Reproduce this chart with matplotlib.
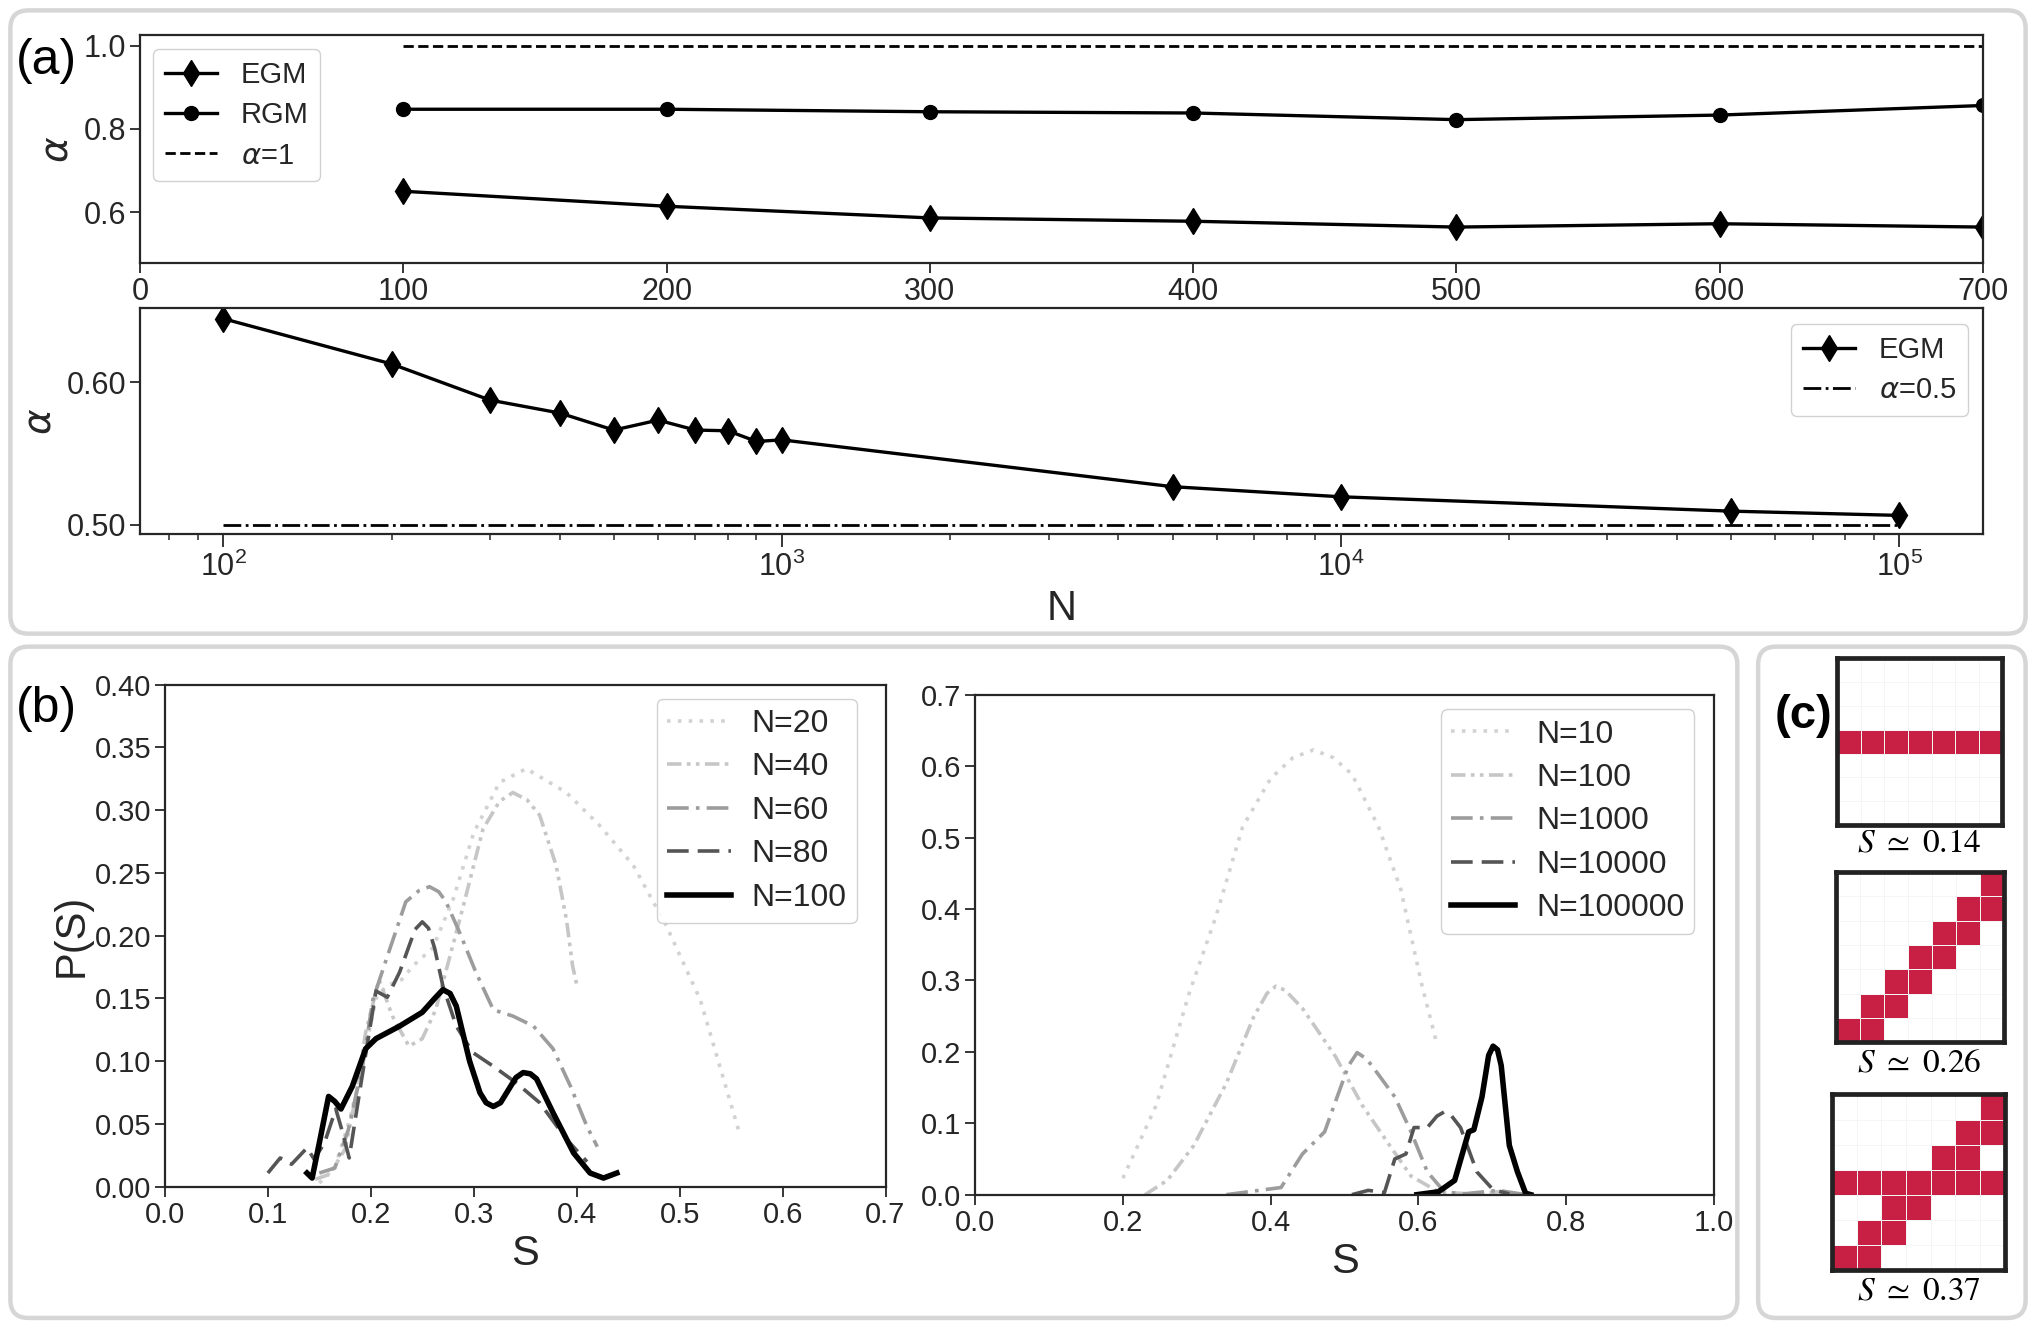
import matplotlib
matplotlib.use("Agg")
import matplotlib.pyplot as plt
import numpy as np
from matplotlib.patches import FancyBboxPatch
from matplotlib.colors import ListedColormap

# ---------------- data ----------------
# (a) top: linear N
N_lin = [100, 200, 300, 400, 500, 600, 700]
egm_lin = [0.650, 0.614, 0.586, 0.578, 0.564, 0.572, 0.564]
rgm_lin = [0.847, 0.847, 0.841, 0.838, 0.822, 0.833, 0.856]
alpha1_x = [100, 700]
alpha1_y = [1.0, 1.0]

# (a) bottom: log N
N_log = [100, 200, 300, 400, 500, 600, 700, 800, 900, 1000, 5000, 10000, 50000, 100000]
egm_log = [0.6447, 0.6129, 0.5875, 0.5784, 0.5664, 0.5734, 0.5664, 0.5659, 0.5584, 0.5595,
           0.5266, 0.5195, 0.5094, 0.5064]
alpha05_x = [100, 100000]
alpha05_y = [0.5, 0.5]

# (b) left: P(S) for small N
S20 = [0.150, 0.165, 0.180, 0.195, 0.205, 0.215, 0.230, 0.241, 0.260, 0.280, 0.300, 0.325,
       0.351, 0.390, 0.422, 0.455, 0.487, 0.520, 0.558]
P20 = [0.003, 0.015, 0.055, 0.110, 0.150, 0.160, 0.165, 0.176, 0.190, 0.229, 0.282, 0.322,
       0.333, 0.314, 0.288, 0.256, 0.208, 0.149, 0.043]
S40 = [0.146, 0.160, 0.175, 0.185, 0.195, 0.208, 0.221, 0.237, 0.250, 0.263, 0.276, 0.289,
       0.309, 0.325, 0.338, 0.352, 0.364, 0.380, 0.390, 0.396, 0.400]
P40 = [0.006, 0.010, 0.030, 0.070, 0.123, 0.165, 0.136, 0.112, 0.118, 0.141, 0.181, 0.221,
       0.285, 0.307, 0.314, 0.308, 0.296, 0.256, 0.213, 0.176, 0.161]
S60 = [0.150, 0.165, 0.178, 0.192, 0.202, 0.215, 0.234, 0.247, 0.257, 0.266, 0.273, 0.286,
       0.302, 0.319, 0.338, 0.358, 0.377, 0.394, 0.410, 0.420]
P60 = [0.011, 0.015, 0.045, 0.096, 0.149, 0.181, 0.227, 0.236, 0.239, 0.235, 0.227, 0.203,
       0.171, 0.141, 0.136, 0.128, 0.110, 0.080, 0.048, 0.032]
S80 = [0.100, 0.112, 0.123, 0.138, 0.145, 0.155, 0.166, 0.172, 0.179, 0.190, 0.205, 0.216,
       0.228, 0.243, 0.250, 0.256, 0.262, 0.270, 0.283, 0.299, 0.319, 0.341, 0.364, 0.390, 0.410]
P80 = [0.011, 0.023, 0.018, 0.031, 0.022, 0.035, 0.062, 0.045, 0.023, 0.080, 0.156, 0.151,
       0.171, 0.205, 0.211, 0.206, 0.190, 0.160, 0.128, 0.107, 0.096, 0.083, 0.067, 0.038, 0.020]
S100 = [0.138, 0.143, 0.150, 0.159, 0.165, 0.171, 0.182, 0.195, 0.205, 0.228, 0.250, 0.262,
        0.270, 0.277, 0.283, 0.296, 0.306, 0.312, 0.319, 0.326, 0.332, 0.341, 0.348, 0.355,
        0.361, 0.377, 0.397, 0.413, 0.426, 0.439]
P100 = [0.011, 0.007, 0.035, 0.072, 0.068, 0.062, 0.080, 0.110, 0.118, 0.128, 0.139, 0.150,
        0.157, 0.154, 0.144, 0.100, 0.075, 0.067, 0.064, 0.067, 0.075, 0.087, 0.091, 0.090,
        0.086, 0.059, 0.027, 0.011, 0.007, 0.011]

# (b) right: P(S) for large N
S10 = [0.200, 0.245, 0.289, 0.326, 0.362, 0.400, 0.430, 0.458, 0.485, 0.510, 0.546, 0.576,
       0.605, 0.624]
P10 = [0.023, 0.125, 0.280, 0.390, 0.515, 0.583, 0.612, 0.623, 0.612, 0.589, 0.515, 0.428,
       0.292, 0.215]
Sb100 = [0.230, 0.260, 0.296, 0.340, 0.377, 0.395, 0.407, 0.420, 0.443, 0.488, 0.524, 0.561,
         0.590, 0.627, 0.670, 0.708, 0.730]
Pb100 = [0.000, 0.020, 0.069, 0.156, 0.249, 0.282, 0.292, 0.286, 0.261, 0.193, 0.125, 0.069,
         0.026, 0.004, 0.001, 0.004, 0.000]
S1000 = [0.340, 0.414, 0.443, 0.473, 0.505, 0.517, 0.530, 0.546, 0.568, 0.590, 0.612, 0.635,
         0.660, 0.708, 0.745]
P1000 = [0.000, 0.010, 0.057, 0.088, 0.180, 0.199, 0.190, 0.168, 0.137, 0.088, 0.032, 0.004,
         0.001, 0.006, 0.000]
S10000 = [0.510, 0.532, 0.554, 0.568, 0.583, 0.594, 0.612, 0.625, 0.635, 0.645, 0.657, 0.679,
          0.701, 0.723]
P10000 = [0.000, 0.006, 0.003, 0.050, 0.057, 0.094, 0.094, 0.110, 0.116, 0.110, 0.094, 0.032,
          0.007, 0.001]
S100000 = [0.598, 0.627, 0.649, 0.668, 0.675, 0.686, 0.695, 0.701, 0.707, 0.712, 0.723, 0.734,
           0.745, 0.752]
P100000 = [0.000, 0.004, 0.020, 0.088, 0.091, 0.137, 0.195, 0.208, 0.203, 0.181, 0.069, 0.032,
           0.002, 0.000]

# (c) lattice configurations (1 = occupied)
grid1 = [[0, 0, 0, 0, 0, 0, 0],
         [0, 0, 0, 0, 0, 0, 0],
         [0, 0, 0, 0, 0, 0, 0],
         [1, 1, 1, 1, 1, 1, 1],
         [0, 0, 0, 0, 0, 0, 0],
         [0, 0, 0, 0, 0, 0, 0],
         [0, 0, 0, 0, 0, 0, 0]]
grid2 = [[0, 0, 0, 0, 0, 0, 1],
         [0, 0, 0, 0, 0, 1, 1],
         [0, 0, 0, 0, 1, 1, 0],
         [0, 0, 0, 1, 1, 0, 0],
         [0, 0, 1, 1, 0, 0, 0],
         [0, 1, 1, 0, 0, 0, 0],
         [1, 1, 0, 0, 0, 0, 0]]
grid3 = [[0, 0, 0, 0, 0, 0, 1],
         [0, 0, 0, 0, 0, 1, 1],
         [0, 0, 0, 0, 1, 1, 0],
         [1, 1, 1, 1, 1, 1, 1],
         [0, 0, 1, 1, 0, 0, 0],
         [0, 1, 1, 0, 0, 0, 0],
         [1, 1, 0, 0, 0, 0, 0]]
grid_labels = [r"$\mathit{S}\ \simeq\ \mathrm{0.14}$", r"$\mathit{S}\ \simeq\ \mathrm{0.26}$",
               r"$\mathit{S}\ \simeq\ \mathrm{0.37}$"]

# ---------------- style ----------------
plt.rcParams.update({
    "axes.edgecolor": "#262626",
    "axes.linewidth": 1.6,
    "xtick.color": "#262626",
    "ytick.color": "#262626",
    "xtick.direction": "out",
    "ytick.direction": "out",
    "xtick.major.size": 7,
    "ytick.major.size": 7,
    "xtick.minor.size": 4.5,
    "xtick.major.width": 1.3,
    "ytick.major.width": 1.3,
    "xtick.minor.width": 1.1,
    "text.color": "#262626",
    "axes.labelcolor": "#262626",
    "mathtext.fontset": "custom",
    "mathtext.rm": "Liberation Sans",
    "mathtext.it": "DejaVu Sans:italic",
    "mathtext.default": "it",
    "legend.edgecolor": "#cccccc",
})

W, H = 2036, 1330
DW, DH = 1568.0, 1022.0
fig = plt.figure(figsize=(W / 100, H / 100), dpi=100)

def rect(x0, y0, x1, y1):
    return [x0 / DW, 1 - y1 / DH, (x1 - x0) / DW, (y1 - y0) / DH]

def fxy(x, y):
    return x / DW, 1 - y / DH

reg = ["Liberation Sans", "DejaVu Sans"]

# background rounded boxes (in inches so rounding is isotropic)
sc = W / DW / 100.0
def add_box(x0, y0, x1, y1):
    p = FancyBboxPatch((x0 * sc, H / 100 - y1 * sc), (x1 - x0) * sc, (y1 - y0) * sc,
                       boxstyle="round,pad=0,rounding_size=0.18",
                       transform=fig.dpi_scale_trans, facecolor="white",
                       edgecolor="#d6d6d6", linewidth=3.2, zorder=-10)
    fig.patches.append(p)

add_box(8, 8, 1560, 488)
add_box(8, 498, 1338, 1015)
add_box(1354, 498, 1560, 1015)

TICK_A = 22
TICK_B = 21

# ---------------- (a) top ----------------
ax1 = fig.add_axes(rect(108, 27, 1527, 202))
ax1.plot(N_lin, egm_lin, color="black", lw=2.4, marker="d", ms=13, label="EGM")
ax1.plot(N_lin, rgm_lin, color="black", lw=2.4, marker="o", ms=10, label="RGM")
ax1.plot(alpha1_x, alpha1_y, color="black", lw=2.0, ls="--", label=r"$\alpha$=1")
ax1.set_xlim(0, 700)
ax1.set_ylim(0.478, 1.025)
ax1.set_xticks([0, 100, 200, 300, 400, 500, 600, 700])
ax1.set_yticks([0.6, 0.8, 1.0])
ax1.yaxis.set_major_formatter(matplotlib.ticker.FormatStrFormatter("%.1f"))
for lab in ax1.get_xticklabels() + ax1.get_yticklabels():
    lab.set_family(reg)
    lab.set_fontsize(TICK_A)
ax1.tick_params(axis="y", pad=3)
ax1.set_ylabel(r"$\alpha$", fontsize=28, labelpad=6)
ax1.legend(loc="upper left", bbox_to_anchor=(0.007, 0.937), borderaxespad=0,
           prop={"family": reg, "size": 21}, handlelength=1.8, handletextpad=0.8,
           labelspacing=0.42, borderpad=0.4, fancybox=True, framealpha=0.9)

# ---------------- (a) bottom ----------------
ax2 = fig.add_axes(rect(108, 236.7, 1527, 410.7))
ax2.plot(N_log, egm_log, color="black", lw=2.4, marker="d", ms=13, label="EGM")
ax2.plot(alpha05_x, alpha05_y, color="black", lw=2.0, ls="-.", label=r"$\alpha$=0.5")
ax2.set_xscale("log")
ax2.set_xlim(71, 141000)
ax2.set_ylim(0.493, 0.6522)
ax2.set_yticks([0.50, 0.60])
ax2.yaxis.set_major_formatter(matplotlib.ticker.FormatStrFormatter("%.2f"))
ax2.tick_params(axis="x", which="major", length=9)
ax2.tick_params(axis="y", pad=3)
for lab in ax2.get_xticklabels() + ax2.get_yticklabels():
    lab.set_family(reg)
    lab.set_fontsize(TICK_A)
ax2.set_ylabel(r"$\alpha$", fontsize=28, labelpad=6)
ax2.set_xlabel("N", fontsize=30, family=reg, labelpad=4)
ax2.legend(loc="upper right", bbox_to_anchor=(0.992, 0.929), borderaxespad=0,
           prop={"family": reg, "size": 21}, handlelength=1.8, handletextpad=0.8,
           labelspacing=0.42, borderpad=0.4, fancybox=True, framealpha=0.9)

# ---------------- (b) ----------------
styles = [
    dict(color="#d2d2d2", ls=(0, (1, 2)), lw=2.6),
    dict(color="#c6c6c6", ls=(0, (4, 1.5, 1, 1.5, 1, 1.5)), lw=2.6),
    dict(color="#9c9c9c", ls=(0, (6, 2, 1, 2)), lw=2.6),
    dict(color="#555555", ls=(0, (6, 2.5)), lw=2.6),
    dict(color="black", ls="-", lw=4.0),
]

ax3 = fig.add_axes(rect(127, 526, 682, 912))
left_series = [(S20, P20, "N=20"), (S40, P40, "N=40"), (S60, P60, "N=60"),
               (S80, P80, "N=80"), (S100, P100, "N=100")]
for (s, p, lab), st in zip(left_series, styles):
    ax3.plot(s, p, label=lab, solid_joinstyle="round", dash_joinstyle="round", **st)
ax3.set_xlim(0, 0.7)
ax3.set_ylim(0, 0.4)
ax3.set_xticks(np.arange(0, 0.71, 0.1))
ax3.set_yticks(np.arange(0, 0.41, 0.05))
ax3.xaxis.set_major_formatter(matplotlib.ticker.FormatStrFormatter("%.1f"))
ax3.yaxis.set_major_formatter(matplotlib.ticker.FormatStrFormatter("%.2f"))
for lab in ax3.get_xticklabels() + ax3.get_yticklabels():
    lab.set_family(reg)
    lab.set_fontsize(TICK_B)
ax3.tick_params(pad=3)
ax3.set_xlabel("S", fontsize=30, family=reg, labelpad=4)
ax3.set_ylabel("P(S)", fontsize=30, family=reg, labelpad=2)
ax3.legend(loc="upper right", bbox_to_anchor=(0.960, 0.9715), borderaxespad=0,
           prop={"family": reg, "size": 23}, handlelength=2.0, handletextpad=0.65,
           labelspacing=0.42, borderpad=0.32, fancybox=True, framealpha=0.9)

ax4 = fig.add_axes(rect(751, 534, 1320, 918))
right_series = [(S10, P10, "N=10"), (Sb100, Pb100, "N=100"), (S1000, P1000, "N=1000"),
                (S10000, P10000, "N=10000"), (S100000, P100000, "N=100000")]
for (s, p, lab), st in zip(right_series, styles):
    ax4.plot(s, p, label=lab, solid_joinstyle="round", dash_joinstyle="round", **st)
ax4.set_xlim(0, 1.0)
ax4.set_ylim(0, 0.7)
ax4.set_xticks(np.arange(0, 1.01, 0.2))
ax4.set_yticks(np.arange(0, 0.71, 0.1))
ax4.xaxis.set_major_formatter(matplotlib.ticker.FormatStrFormatter("%.1f"))
ax4.yaxis.set_major_formatter(matplotlib.ticker.FormatStrFormatter("%.1f"))
for lab in ax4.get_xticklabels() + ax4.get_yticklabels():
    lab.set_family(reg)
    lab.set_fontsize(TICK_B)
ax4.tick_params(pad=3)
ax4.set_xlabel("S", fontsize=30, family=reg, labelpad=4)
ax4.legend(loc="upper right", bbox_to_anchor=(0.9736, 0.971), borderaxespad=0,
           prop={"family": reg, "size": 23}, handlelength=2.0, handletextpad=0.65,
           labelspacing=0.42, borderpad=0.32, fancybox=True, framealpha=0.9)

# ---------------- (c) ----------------
cmap = ListedColormap(["white", "#c82044"])
grid_rects = [(1415, 506, 1542, 634), (1414, 670, 1543, 801), (1411, 841, 1544, 976)]
label_y = [647, 816, 991]
for g, (x0, y0, x1, y1), lab, ly in zip([grid1, grid2, grid3], grid_rects, grid_labels, label_y):
    axg = fig.add_axes(rect(x0, y0, x1, y1))
    arr = np.array(g)
    axg.pcolormesh(arr, cmap=cmap, vmin=0, vmax=1, edgecolors="#f5f5f5", linewidth=0.6)
    axg.set_xlim(0, arr.shape[1])
    axg.set_ylim(arr.shape[0], 0)
    axg.set_xticks([])
    axg.set_yticks([])
    for sp in axg.spines.values():
        sp.set_linewidth(3.4)
        sp.set_color("#222222")
    fx, fy = fxy((x0 + x1) / 2, ly)
    fig.text(fx, fy, lab, ha="center", va="center", fontsize=24, math_fontfamily="stix",
             color="black")

# panel labels
fig.text(*fxy(36, 47), "(a)", fontsize=36, family=reg, ha="center", va="center", color="black")
fig.text(*fxy(36, 545), "(b)", fontsize=36, family=reg, ha="center", va="center", color="black")
fig.text(*fxy(1389, 550), "(c)", fontsize=34, family=reg, weight="bold", ha="center",
         va="center", color="black")

fig.savefig("out.png", dpi=100)
